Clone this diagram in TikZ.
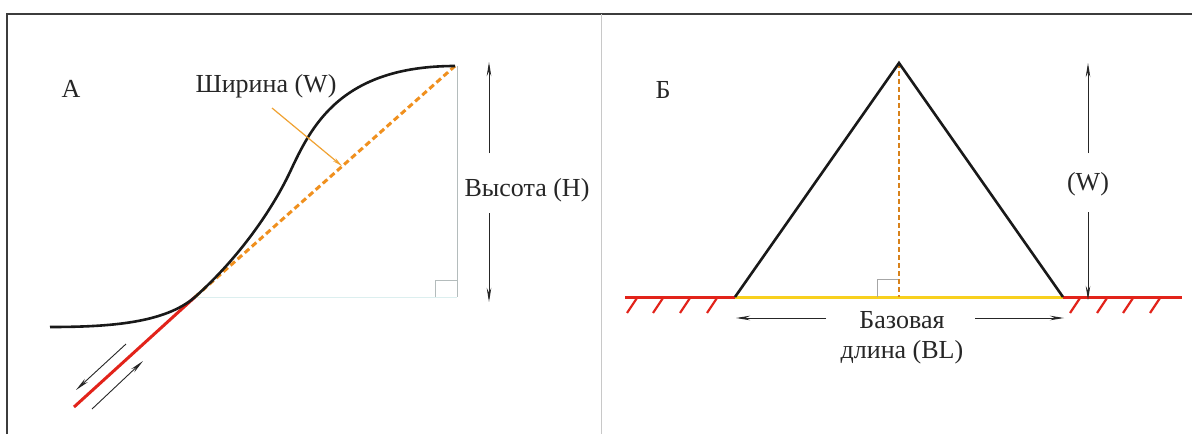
\documentclass[tikz,border=0pt]{standalone}
\usepackage{fontspec}
\setmainfont{Liberation Serif}
\usetikzlibrary{arrows.meta, positioning}
\definecolor{frameline}{HTML}{3C3C3C}
\definecolor{divline}{HTML}{C8C8C8}
\definecolor{dashorange}{HTML}{F0901E}
\definecolor{ptrorange}{HTML}{F0A232}
\definecolor{groundred}{HTML}{E2231A}
\definecolor{baseyellow}{HTML}{F8D01E}
\definecolor{helpgray}{HTML}{B4BCBC}
\definecolor{helpcyan}{HTML}{DCEFEF}

\begin{document}
\begin{tikzpicture}[
  x=1pt, y=-1pt,
  lbl/.style={font=\fontsize{26}{30}\selectfont, inner sep=0pt, align=center,
    anchor=base, text=black!85},
  profile/.style={line width=2.6pt, black!90},
  chord/.style={line width=3pt, dashorange, dash pattern=on 6pt off 3.5pt},
  axisdash/.style={line width=2.2pt, dashorange!90!black, dash pattern=on 5pt off 3pt},
  redline/.style={line width=3pt, groundred},
  hatch/.style={line width=2.2pt, groundred},
  dimarrow/.style={-{Stealth[length=14pt, width=4.5pt]}, line width=0.9pt, black!85},
  pointer/.style={-{Stealth[length=10pt, width=4pt]}, line width=1.2pt, ptrorange},
  helper/.style={line width=1pt, helpgray},
]
\useasboundingbox (0,0) rectangle (1192,434);
\fill[white] (0,0) rectangle (1192,434);

% Frame and panel divider
\draw[line width=2.2pt, frameline] (7,434) -- (7,14) -- (1192,14);
\draw[line width=1pt, divline] (601,14) -- (601,434);

% ---------- Panel A ----------
\node[lbl] (labA) at (71,97) {A};

\coordinate (sStart) at (50,327);
\coordinate (touch) at (195,297);
\coordinate (infl) at (290,172);
\coordinate (crest) at (455,66);
\coordinate (corner) at (457,297);
\coordinate (crestV) at (457,66);
\coordinate (redEnd) at (74,407);

% helper right triangle
\draw[line width=1pt, helpcyan] (touch) -- (corner);
\draw[helper] (crestV) -- (corner);
\draw[helper, line width=0.8pt] (435,297) -- (435,280) -- (457,280);

% tangent line and chord
\draw[redline] (touch) -- (redEnd);
\draw[chord] (touch) -- (crest);

% S-shaped profile
\draw[profile] (sStart) .. controls (110,327) and (165,323) .. (touch)
  .. controls (240,257) and (273,208) .. (infl)
  .. controls (311,127) and (340,66) .. (crest);

% width pointer
\node[lbl] (wLbl) at (266,92) {Ширина (W)};
\coordinate (ptrStart) at (272,108);
\coordinate (ptrEnd) at (342,166);
\draw[pointer] (ptrStart) -- (ptrEnd);

% motion arrows along the tangent
\coordinate (mvA1) at (126,344);
\coordinate (mvA2) at (76,390);
\coordinate (mvB1) at (92,409);
\coordinate (mvB2) at (143,361);
\draw[dimarrow] (mvA1) -- (mvA2);
\draw[dimarrow] (mvB1) -- (mvB2);

% height dimension
\node[lbl] (hLbl) at (527,196) {Высота (H)};
\coordinate (hTop) at (489,62);
\coordinate (hUp) at (489,153);
\coordinate (hLow) at (489,213);
\coordinate (hBot) at (489,302);
\draw[dimarrow] (hUp) -- (hTop);
\draw[dimarrow] (hLow) -- (hBot);

% ---------- Panel Б ----------
\node[lbl] (labB) at (663,98) {Б};

\coordinate (apex) at (899,63);
\coordinate (baseL) at (735,297);
\coordinate (baseR) at (1063,297);
\coordinate (foot) at (899,297);
\coordinate (gndL) at (625,297);
\coordinate (gndR) at (1182,297);

% ground with hatching
\draw[redline] (gndL) -- (baseL);
\draw[redline] (baseR) -- (gndR);
\foreach \hx in {637,663,690,717,1080,1107,1133,1160}
  \draw[hatch] (\hx,298) -- ++(-10,15);
\draw[line width=3pt, baseyellow] (baseL) -- (baseR);

% triangle and its axis
\draw[helper, line width=0.8pt, gray!70] (877,297) -- (877,279) -- (899,279);
\draw[axisdash] (apex) -- (foot);
\draw[profile, line join=miter] (baseL) -- (apex) -- (baseR);

% height (W) dimension
\node[lbl] (wbLbl) at (1088,190) {(W)};
\coordinate (wTop) at (1088,63);
\coordinate (wUp) at (1088,153);
\coordinate (wLow) at (1088,212);
\coordinate (wBot) at (1088,300);
\draw[dimarrow] (wUp) -- (wTop);
\draw[dimarrow] (wLow) -- (wBot);

% base length dimension
\node[lbl] (blLbl) at (902,358) {Базовая\\длина (BL)};
\coordinate (blL1) at (826,318);
\coordinate (blL2) at (736,318);
\coordinate (blR1) at (975,318);
\coordinate (blR2) at (1064,318);
\draw[dimarrow] (blL1) -- (blL2);
\draw[dimarrow] (blR1) -- (blR2);

\end{tikzpicture}
\end{document}
